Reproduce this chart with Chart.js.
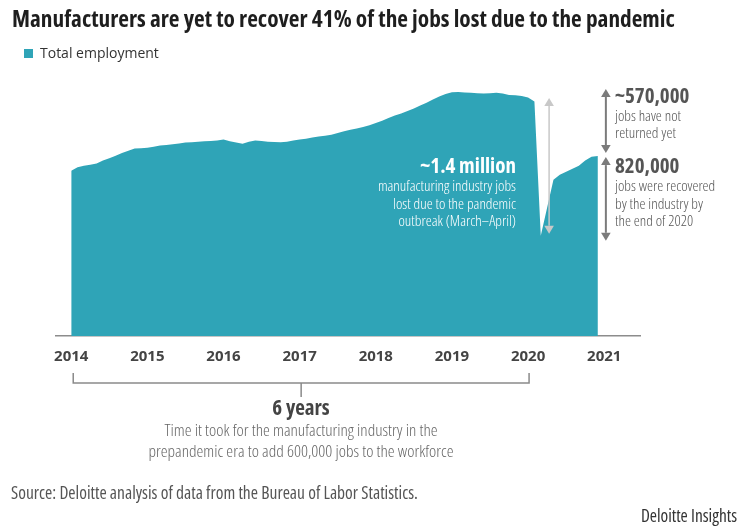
<!DOCTYPE html>
<html>
<head>
<meta charset="utf-8">
<script src="https://cdn.jsdelivr.net/npm/chart.js@4.4.1/dist/chart.umd.min.js"></script>
<style>
  html, body { margin: 0; padding: 0; background: #fff; }
  #wrap { position: relative; width: 750px; height: 530px; overflow: hidden; font-family: 'Open Sans', 'Noto Sans', sans-serif; font-stretch: condensed; }
  #c { position: absolute; left: 0; top: 0; }
  .t { position: absolute; white-space: nowrap; font-stretch: condensed; }
  #title { left: 12px; top: 4px; font-size: 23.3px; line-height: 28px; font-weight: 700; color: #1e1e1e; }
  #legBox { position: absolute; left: 24px; top: 49px; width: 9px; height: 9px; background: #2fa4b7; }
  #legTxt { left: 40px; top: 44px; font-size: 14px; line-height: 18px; color: #333; font-stretch: normal; }
  .big { font-weight: 700; font-size: 21px; line-height: 24px; }
  .small { font-weight: 300; font-size: 15.2px; line-height: 17.5px; }
  #center { right: 234px; top: 153px; text-align: right; color: #fff; }
  #right1 { left: 615px; top: 83px; color: #555; }
  #right2 { left: 615px; top: 153px; color: #555; }
  #years6 { left: 101px; width: 400px; top: 395px; text-align: center; color: #444; }
  #source { left: 11px; top: 481px; font-size: 17.5px; line-height: 22px; color: #555; }
  #brand { right: 13px; top: 504px; font-size: 17.4px; line-height: 22px; color: #333; }
</style>
</head>
<body>
<div id="wrap">
  <canvas id="c" width="750" height="530"></canvas>
  <div class="t" id="title">Manufacturers are yet to recover 41% of the jobs lost due to the pandemic</div>
  <div id="legBox"></div>
  <div class="t" id="legTxt">Total employment</div>
  <div class="t" id="center">
    <div class="big">~1.4 million</div>
    <div class="small">manufacturing industry jobs</div>
    <div class="small">lost due to the pandemic</div>
    <div class="small">outbreak (March–April)</div>
  </div>
  <div class="t" id="right1">
    <div class="big">~570,000</div>
    <div class="small" style="line-height:16.5px">jobs have not</div>
    <div class="small" style="line-height:16.5px">returned yet</div>
  </div>
  <div class="t" id="right2">
    <div class="big">820,000</div>
    <div class="small">jobs were recovered</div>
    <div class="small">by the industry by</div>
    <div class="small">the end of 2020</div>
  </div>
  <div class="t" id="years6">
    <div class="big" style="color:#444">6 years</div>
    <div class="small" style="font-size:17.2px;line-height:21px;color:#666">Time it took for the manufacturing industry in the</div>
    <div class="small" style="font-size:17.2px;line-height:21px;color:#666">prepandemic era to add 600,000 jobs to the workforce</div>
  </div>
  <div class="t" id="source">Source: Deloitte analysis of data from the Bureau of Labor Statistics.</div>
  <div class="t" id="brand">Deloitte Insights</div>
</div>
<script>
// ---- Data (thousands of jobs, monthly from Jan 2014 to Dec 2020) ----
const seriesName = 'Total employment';
const startYear = 2014;
const employment = [
  12042, 12075, 12089, 12098, 12109, 12136, 12158, 12182, 12206, 12229, 12248, 12252,
  12257, 12266, 12276, 12282, 12289, 12296, 12304, 12308, 12313, 12317, 12320, 12323,
  12332, 12316, 12304, 12294, 12313, 12323, 12320, 12313, 12310, 12307, 12313, 12323,
  12332, 12341, 12351, 12360, 12369, 12377, 12393, 12411, 12423, 12435, 12449, 12467,
  12486, 12509, 12533, 12556, 12575, 12598, 12622, 12650, 12676, 12706, 12734, 12757,
  12774, 12776, 12771, 12768, 12765, 12762, 12765, 12768, 12762, 12748, 12745, 12738,
  12724, 12687, 11435, 11696, 11958, 12005, 12033, 12061, 12089, 12136, 12173, 12178
];
const yearTicks = [2014, 2015, 2016, 2017, 2018, 2019, 2020, 2021];
const bracketYears = [2014, 2020];

const teal = '#2fa4b7';
const points = employment.map((v, i) => ({ x: startYear + i / 12, y: v }));

const peakValue = Math.max(...employment.slice(0, 74));
const troughValue = Math.min(...employment);
const endValue = employment[employment.length - 1];

function arrow(ctx, x, y1, y2, color, lw, head) {
  ctx.save();
  ctx.strokeStyle = color; ctx.fillStyle = color; ctx.lineWidth = lw;
  ctx.beginPath(); ctx.moveTo(x, y1 + head); ctx.lineTo(x, y2 - head); ctx.stroke();
  ctx.beginPath(); ctx.moveTo(x, y1); ctx.lineTo(x - head * 0.6, y1 + head); ctx.lineTo(x + head * 0.6, y1 + head); ctx.closePath(); ctx.fill();
  ctx.beginPath(); ctx.moveTo(x, y2); ctx.lineTo(x - head * 0.6, y2 - head); ctx.lineTo(x + head * 0.6, y2 - head); ctx.closePath(); ctx.fill();
  ctx.restore();
}

const annotate = {
  id: 'annotate',
  afterDatasetsDraw(chart) {
    const ctx = chart.ctx, xs = chart.scales.x, ys = chart.scales.y;
    const yPeak = ys.getPixelForValue(peakValue);
    const yTrough = ys.getPixelForValue(troughValue);
    const yEnd = ys.getPixelForValue(endValue);
    const xEnd = xs.getPixelForValue(startYear + (employment.length - 1) / 12);
    const xDrop = xs.getPixelForValue(startYear + 75 / 12);
    // light arrow showing the drop
    arrow(ctx, xDrop + 2, yPeak + 6, yTrough - 2, '#c8c8c8', 1.5, 8);
    // right arrows
    arrow(ctx, xEnd + 8, yPeak - 3, yEnd - 3, '#7b7b7b', 2, 8);
    arrow(ctx, xEnd + 8, yEnd + 1, yTrough + 5, '#7b7b7b', 2, 8);
    // bracket under the axis
    const bx1 = xs.getPixelForValue(bracketYears[0]) + 2;
    const bx2 = xs.getPixelForValue(bracketYears[1]) + 1;
    const top = 373, bot = 383;
    ctx.save();
    ctx.strokeStyle = '#8a8a8a'; ctx.lineWidth = 1.5;
    ctx.beginPath();
    ctx.moveTo(bx1, top); ctx.lineTo(bx1, bot); ctx.lineTo(bx2, bot); ctx.lineTo(bx2, top);
    const mid = (bx1 + bx2) / 2;
    ctx.moveTo(mid, bot); ctx.lineTo(mid, 397);
    ctx.stroke();
    ctx.restore();
  }
};

new Chart(document.getElementById('c'), {
  type: 'line',
  data: {
    datasets: [{
      label: seriesName,
      data: points,
      borderWidth: 0,
      borderColor: teal,
      backgroundColor: teal,
      fill: 'origin',
      pointRadius: 0,
      tension: 0
    }]
  },
  options: {
    responsive: false,
    animation: false,
    events: [],
    layout: { padding: { left: 56, right: 110, top: 68, bottom: 164 } },
    plugins: { legend: { display: false }, title: { display: false }, tooltip: { enabled: false } },
    scales: {
      x: {
        type: 'linear',
        min: 2013.8,
        max: 2021.47,
        afterBuildTicks: (s) => { s.ticks = yearTicks.map(v => ({ value: v })); },
        afterFit: (s) => { s.height = 30; },
        grid: { display: false, drawTicks: false },
        border: { display: true, color: '#8c8c8c', width: 1.5 },
        ticks: {
          autoSkip: false,
          maxRotation: 0,
          padding: 12,
          color: '#444',
          font: { family: "'Open Sans'", size: 15, weight: 'bold', style: 'condensed' },
          callback: (v) => String(v)
        }
      },
      y: {
        display: false,
        min: 10500,
        max: 13000
      }
    }
  },
  plugins: [annotate]
});
</script>
</body>
</html>
